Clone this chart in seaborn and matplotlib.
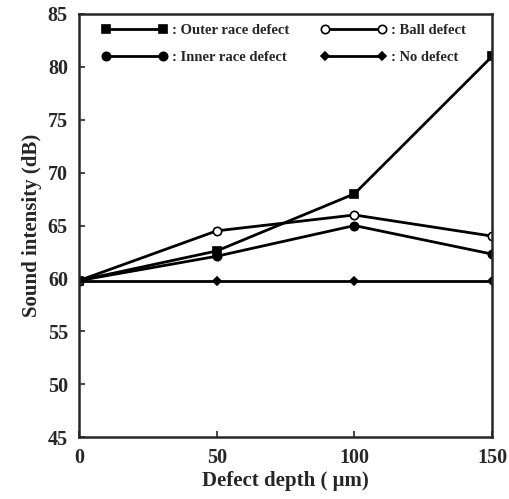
import numpy as np
import pandas as pd
import matplotlib
matplotlib.use("Agg")
import matplotlib.pyplot as plt
import seaborn as sns

# data
depth = [0, 50, 100, 150]
outer_race = [59.8, 62.6, 68.0, 81.0]
ball = [59.8, 64.5, 66.0, 64.0]
inner_race = [59.8, 62.1, 65.0, 62.3]
no_defect = [59.8, 59.8, 59.8, 59.8]

# order so that the 2-column legend reads Outer/Ball then Inner/No defect
labels = [": Outer race defect", ": Inner race defect", ": Ball defect", ": No defect"]
series = [outer_race, inner_race, ball, no_defect]
markers = ["s", "o", "o", "D"]
faces = ["black", "black", "white", "black"]
sizes = [6, 6, 6, 4.5]

sns.set_style("ticks")
plt.rcParams['font.family'] = ['Liberation Serif', 'DejaVu Serif']
plt.rcParams['font.weight'] = 'bold'

fig = plt.figure(figsize=(5.10, 4.99), dpi=100)
ax = fig.add_axes([0.155, 0.124, 0.81, 0.848])

for vals, lab, m, fc, ms in zip(series, labels, markers, faces, sizes):
    df = pd.DataFrame({'depth': depth, 'dB': vals})
    sns.lineplot(data=df, x='depth', y='dB', ax=ax, color='black', linewidth=2,
                 marker=m, markerfacecolor=fc, markeredgecolor='black',
                 markeredgewidth=1.2, markersize=ms, label=lab)

ax.set_xlim(0, 150)
ax.set_ylim(45, 85)
ax.set_xticks([0, 50, 100, 150])
ax.set_yticks(np.arange(45, 86, 5))
ax.tick_params(direction='in', length=4, width=1.2, labelsize=14.5, pad=8)
for lbl in ax.get_xticklabels() + ax.get_yticklabels():
    lbl.set_fontweight('bold')
for s in ax.spines.values():
    s.set_linewidth(1.8)

ax.set_xlabel("Defect depth ( \u03bcm)", fontsize=15, fontweight='bold', labelpad=2)
ax.set_ylabel("Sound intensity (dB)", fontsize=15, fontweight='bold', labelpad=4)

leg = ax.legend(loc='upper left', ncol=2, frameon=False, fontsize=10.5,
                numpoints=2, handlelength=4.5, columnspacing=2.2, labelspacing=0.9,
                handletextpad=0.3, borderaxespad=0.3, bbox_to_anchor=(0.03, 1.0))
for t in leg.get_texts():
    t.set_fontweight('bold')

fig.savefig("out.png", dpi=100)
